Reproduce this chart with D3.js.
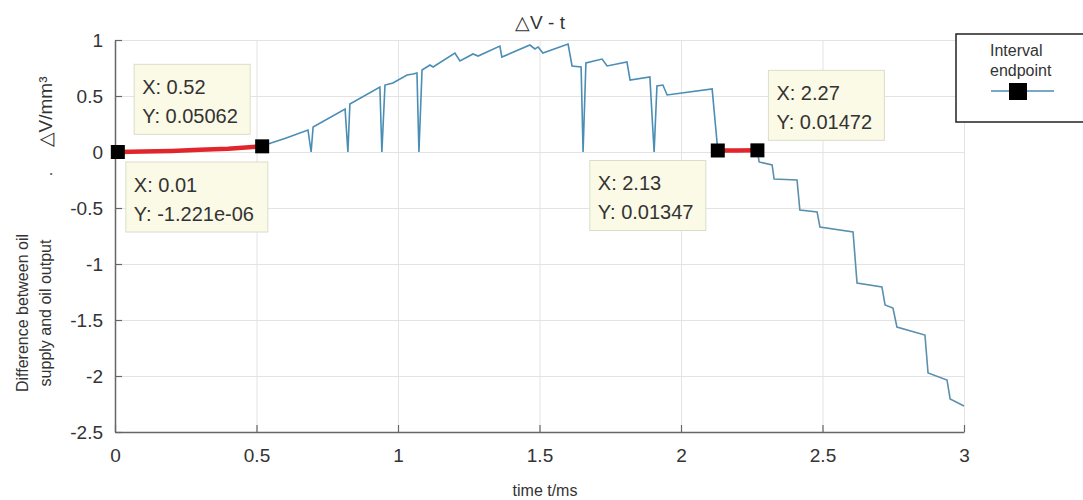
<!DOCTYPE html>
<html>
<head>
<meta charset="utf-8">
<script src="https://cdn.jsdelivr.net/npm/d3@7"></script>
<style>
  body { margin: 0; background: #fff; }
  text { font-family: "Liberation Sans", Arial, sans-serif; fill: #333; }
</style>
</head>
<body>
<div id="chart"></div>
<script>
// Tick values
var xTicks = [0, 0.5, 1, 1.5, 2, 2.5, 3];
var yTicks = [-2.5, -2, -1.5, -1, -0.5, 0, 0.5, 1];

// Blue curve (t in ms, dV in mm^3)
var curveMid = [
  [0.52, 0.0506], [0.53, 0.063], [0.60, 0.12], [0.682, 0.196], [0.693, 0.0], [0.70, 0.223],
  [0.813, 0.384], [0.823, 0.0], [0.83, 0.429], [0.936, 0.58], [0.943, 0.0],
  [0.954, 0.598], [0.982, 0.616], [1.032, 0.688], [1.053, 0.696], [1.067, 0.705],
  [1.074, 0.0], [1.085, 0.732], [1.113, 0.777], [1.124, 0.759], [1.201, 0.884],
  [1.219, 0.813], [1.265, 0.875], [1.283, 0.857], [1.36, 0.946], [1.367, 0.848],
  [1.466, 0.955], [1.484, 0.92], [1.495, 0.938], [1.512, 0.884], [1.601, 0.964],
  [1.615, 0.768], [1.647, 0.759], [1.654, 0.0], [1.664, 0.795], [1.721, 0.83],
  [1.739, 0.768], [1.809, 0.804], [1.82, 0.643], [1.89, 0.67], [1.905, 0.0],
  [1.915, 0.589], [1.936, 0.598], [1.951, 0.509], [2.11, 0.5625], [2.13, 0.0135]
];
var curveEnd = [
  [2.27, 0.0147], [2.276, -0.089], [2.322, -0.116], [2.329, -0.241], [2.41, -0.25],
  [2.42, -0.518], [2.481, -0.536], [2.491, -0.67], [2.608, -0.714], [2.622, -1.17],
  [2.71, -1.205], [2.721, -1.366], [2.749, -1.393], [2.763, -1.5625], [2.862, -1.634],
  [2.873, -1.973], [2.94, -2.036], [2.951, -2.205], [3.0, -2.268]
];

// Red interval segments
var interval1 = [[0.01, 0], [0.1, 0.004], [0.2, 0.01], [0.3, 0.02], [0.4, 0.03], [0.52, 0.0506]];
var interval2 = [[2.13, 0.0135], [2.2, 0.014], [2.27, 0.0147]];

// Data tips: endpoint values
var tips = [
  { x: 0.52, y: 0.05062, label: "0.05062", dx: -128, dy: -82 },
  { x: 0.01, y: -1.221e-06, label: "-1.221e-06", dx: 8, dy: 10 },
  { x: 2.13, y: 0.01347, label: "0.01347", dx: -128, dy: 10 },
  { x: 2.27, y: 0.01472, label: "0.01472", dx: 11, dy: -80 }
];

var margin = {top: 40, right: 119, bottom: 68, left: 115},
    width = 1083 - margin.left - margin.right,
    height = 500 - margin.top - margin.bottom;

var svg = d3.select("#chart").append("svg")
    .attr("width", 1083)
    .attr("height", 500);

var g = svg.append("g")
    .attr("transform", "translate(" + margin.left + "," + margin.top + ")");

var x = d3.scaleLinear().domain([0, 3]).range([0, width]);
var y = d3.scaleLinear().domain([-2.5, 1]).range([height, 0]);

// Grid
g.append("g")
  .attr("class", "grid")
  .call(d3.axisBottom(x).tickValues(xTicks).tickSize(height).tickFormat(""))
  .call(function(s) { s.select(".domain").remove(); })
  .selectAll("line").attr("stroke", "#e3e3e3");
g.append("g")
  .attr("class", "grid")
  .call(d3.axisLeft(y).tickValues(yTicks).tickSize(-width).tickFormat(""))
  .call(function(s) { s.select(".domain").remove(); })
  .selectAll("line").attr("stroke", "#e3e3e3");

// Axes (MATLAB style: ticks inside)
var fmt = function(d) { return String(d); };
var xAxis = g.append("g")
  .attr("transform", "translate(0," + height + ")")
  .call(d3.axisBottom(x).tickValues(xTicks).tickFormat(fmt)
        .tickSizeInner(-7).tickSizeOuter(0).tickPadding(17));
var yAxis = g.append("g")
  .call(d3.axisLeft(y).tickValues(yTicks).tickFormat(fmt)
        .tickSizeInner(-7).tickSizeOuter(0).tickPadding(12));
[xAxis, yAxis].forEach(function(a) {
  a.select(".domain").attr("stroke", "#666").attr("stroke-width", 1.5);
  a.selectAll(".tick line").attr("stroke", "#666").attr("stroke-width", 1.2);
  a.selectAll(".tick text").style("font-size", "19px").attr("fill", "#333");
});

// Lines
var line = d3.line().x(function(d) { return x(d[0]); }).y(function(d) { return y(d[1]); });

g.append("path").datum(curveMid)
  .attr("d", line).attr("fill", "none")
  .attr("stroke", "#4a8db5").attr("stroke-width", 1.6);
g.append("path").datum(curveEnd)
  .attr("d", line).attr("fill", "none")
  .attr("stroke", "#5a8fae").attr("stroke-width", 1.6);

[interval1, interval2].forEach(function(seg) {
  g.append("path").datum(seg)
    .attr("d", line).attr("fill", "none")
    .attr("stroke", "#e0262b").attr("stroke-width", 4.5);
});

// Data tip boxes
var tipG = g.selectAll(".tip").data(tips).enter().append("g")
  .attr("class", "tip")
  .attr("transform", function(d) { return "translate(" + (x(d.x) + d.dx) + "," + (y(d.y) + d.dy) + ")"; });
tipG.append("rect")
  .attr("width", function(d) { return d.label.length > 8 ? 142 : 116; })
  .attr("height", 70)
  .attr("fill", "#fbfae6")
  .attr("stroke", "#dcdccc");
tipG.append("text").attr("x", 8).attr("y", 30)
  .style("font-size", "20px")
  .text(function(d) { return "X: " + d.x; });
tipG.append("text").attr("x", 8).attr("y", 59)
  .style("font-size", "20px")
  .text(function(d) { return "Y: " + d.label; });

// Endpoint markers
g.selectAll(".marker").data(tips).enter().append("rect")
  .attr("class", "marker")
  .attr("x", function(d) { return x(d.x) - 7; })
  .attr("y", function(d) { return y(d.y) - 7; })
  .attr("width", 14).attr("height", 14)
  .attr("fill", "#000");

// Title
svg.append("text")
  .attr("x", 540).attr("y", 29)
  .attr("text-anchor", "middle")
  .style("font-size", "19px")
  .text("△V - t");

// Axis labels
svg.append("text")
  .attr("x", 545).attr("y", 496)
  .attr("text-anchor", "middle")
  .style("font-size", "16px")
  .text("time t/ms");

svg.append("text")
  .attr("transform", "translate(52,112) rotate(-90)")
  .attr("text-anchor", "middle")
  .style("font-size", "19px")
  .text("△V/mm³");
svg.append("text")
  .attr("transform", "translate(52,174) rotate(-90)")
  .attr("text-anchor", "middle")
  .style("font-size", "16px")
  .text(".");
svg.append("text")
  .attr("transform", "translate(28,313) rotate(-90)")
  .attr("text-anchor", "middle")
  .style("font-size", "16px")
  .text("Difference between oil");
svg.append("text")
  .attr("transform", "translate(51,313) rotate(-90)")
  .attr("text-anchor", "middle")
  .style("font-size", "16px")
  .text("supply and oil output");

// Legend
var leg = svg.append("g");
leg.append("rect")
  .attr("x", 956).attr("y", 34).attr("width", 140).attr("height", 88)
  .attr("fill", "#fff").attr("stroke", "#222").attr("stroke-width", 1.5);
leg.append("text").attr("x", 990).attr("y", 56).style("font-size", "16px").text("Interval");
leg.append("text").attr("x", 990).attr("y", 76).style("font-size", "16px").text("endpoint");
leg.append("line")
  .attr("x1", 991).attr("x2", 1054).attr("y1", 91).attr("y2", 91)
  .attr("stroke", "#4a8db5").attr("stroke-width", 1.5);
leg.append("rect")
  .attr("x", 1009).attr("y", 83).attr("width", 18).attr("height", 17)
  .attr("fill", "#000");
</script>
</body>
</html>
